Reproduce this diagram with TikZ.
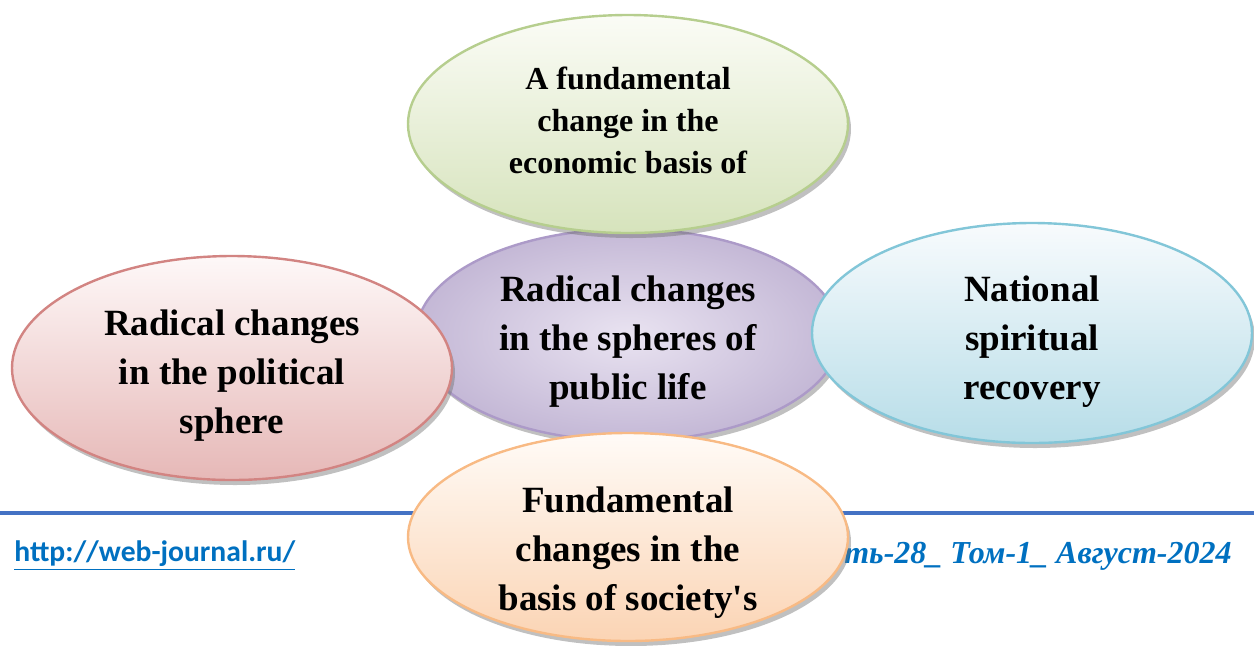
\documentclass[tikz,border=0pt]{standalone}
\usepackage{fontspec}
\setmainfont{Liberation Serif}[Ligatures=TeXOff]
\newfontfamily\urlfont{Carlito}
\usepackage{tikz}
\usetikzlibrary{shapes.geometric}
\usetikzlibrary{shadows}
\usetikzlibrary{calc}
\definecolor{pubin}{RGB}{233,227,241}
\definecolor{pubout}{RGB}{196,184,214}
\definecolor{pubedge}{RGB}{172,154,200}
\definecolor{econtop}{RGB}{251,252,246}
\definecolor{econbot}{RGB}{214,227,188}
\definecolor{econedge}{RGB}{182,206,142}
\definecolor{poltop}{RGB}{254,248,248}
\definecolor{polbot}{RGB}{230,184,183}
\definecolor{poledge}{RGB}{210,132,130}
\definecolor{spirtop}{RGB}{248,251,253}
\definecolor{spirbot}{RGB}{183,221,232}
\definecolor{spiredge}{RGB}{130,198,216}
\definecolor{soctop}{RGB}{255,251,247}
\definecolor{socbot}{RGB}{251,212,180}
\definecolor{socedge}{RGB}{248,186,132}
\definecolor{footblue}{RGB}{68,114,196}
\definecolor{linkblue}{RGB}{0,112,192}

\begin{document}
\begin{tikzpicture}[
  bubble/.style={ellipse, inner sep=0pt, line width=1.2pt,
    drop shadow={shadow xshift=1.5pt, shadow yshift=-2.5pt, opacity=0.45, fill=black!55}},
  bigtext/.style={align=center, inner sep=0pt, font=\bfseries\fontsize{18.5}{24.5}\selectfont}
]

\useasboundingbox (0,0) rectangle (627pt,-322.5pt);

% footer of the page
\draw[footblue, line width=2pt] (0,-256.5pt) -- (627pt,-256.5pt);
\node[anchor=west, inner sep=0pt, text=linkblue, font=\urlfont\bfseries\fontsize{14.8}{16}\selectfont]
    (url) at (7pt,-278pt) {\underline{http://web-journal.ru/}};
\node[anchor=east, inner sep=0pt, text=linkblue, font=\bfseries\itshape\fontsize{16}{18}\selectfont]
    (issue) at (616pt,-278pt) {ть-28\_ Том-1\_ Август-2024};

% centre: public life
\node[bubble, draw=pubedge, inner color=pubin, outer color=pubout,
      minimum width=212pt, minimum height=106pt]
    (pub) at (314pt,-167.5pt) {};
\node[bigtext] (pubtext) at ([yshift=-3.5pt]pub) {Radical changes\\in the spheres of\\public life};

% top: economic basis
\node[bubble, draw=econedge, top color=econtop, bottom color=econbot,
      minimum width=220pt, minimum height=109pt]
    (econ) at ([shift={(0pt,105.5pt)}]pub) {};
\node[bigtext, font=\bfseries\fontsize{16}{21}\selectfont]
    (econtext) at ([yshift=2pt]econ) {A fundamental\\change in the\\economic basis of};

% left: political sphere
\node[bubble, draw=poledge, top color=poltop, bottom color=polbot,
      minimum width=220pt, minimum height=112pt]
    (pol) at ([shift={(-198pt,-16.5pt)}]pub) {};
\node[bigtext] (poltext) at ([yshift=-4pt]pol) {Radical changes\\in the political\\sphere};

% right: spiritual recovery
\node[bubble, draw=spiredge, top color=spirtop, bottom color=spirbot,
      minimum width=220pt, minimum height=110pt]
    (spir) at ([shift={(202pt,1pt)}]pub) {};
\node[bigtext] (spirtext) at ([yshift=-4.5pt]spir) {National\\spiritual\\recovery};

% bottom: basis of society
\node[bubble, draw=socedge, top color=soctop, bottom color=socbot,
      minimum width=220pt, minimum height=104pt]
    (soc) at ([shift={(0pt,-101pt)}]pub) {};
\node[bigtext] (soctext) at ([yshift=-8pt]soc) {Fundamental\\changes in the\\basis of society's};

\end{tikzpicture}
\end{document}
